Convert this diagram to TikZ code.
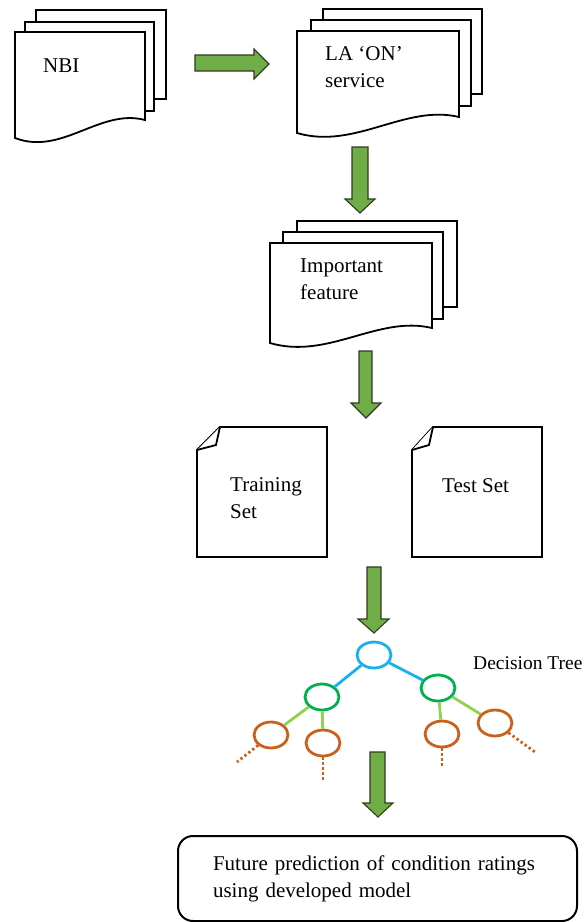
\documentclass[tikz,border=0pt]{standalone}
\usepackage{fontspec}
\setmainfont{Liberation Serif}
\usetikzlibrary{shapes.geometric}
\definecolor{arrowgreen}{HTML}{70AD47}
\definecolor{arrowedge}{HTML}{2E3B24}
\definecolor{treeblue}{HTML}{1AB0EE}
\definecolor{treegreen}{HTML}{00B050}
\definecolor{treelight}{HTML}{92D050}
\definecolor{treeorange}{HTML}{C9601C}
\begin{document}
\begin{tikzpicture}[x=1pt,y=-1pt,
  sheet/.style={draw=black,fill=white,line width=1.8pt,line join=miter},
  fatarrow/.style={draw=arrowedge,fill=arrowgreen,line width=1.1pt},
  lbl/.style={font=\fontsize{21}{27}\selectfont,anchor=base west,inner sep=0pt,align=left},
  tnode/.style={ellipse,draw=#1,line width=2.8pt,minimum width=34pt,minimum height=26pt,inner sep=0pt},
  tedge/.style={draw=#1,line width=2.8pt},
  tdots/.style={draw=treeorange,line width=2.8pt,dash pattern=on 2.4pt off 2.6pt}
]
\useasboundingbox (0,0) rectangle (587,922);

% ---------- NBI multi-document ----------
\draw[sheet] (36,10) rectangle (166,99);
\draw[sheet] (25,22) rectangle (154,111);
\draw[sheet] (15,138) -- (15,32) -- (145,32) -- (145,120)
  .. controls (100,108) and (62,156) .. cycle;
\node[lbl] (nbi) at (43,72) {NBI};

% ---------- LA 'ON' service ----------
\draw[sheet] (323,9) rectangle (482,94);
\draw[sheet] (311,20) rectangle (471,106);
\draw[sheet] (297,133) -- (297,31) -- (459,31) -- (459,117)
  .. controls (405,104) and (355,150) .. cycle;
\node[lbl] (la) at (325,87) {LA ‘ON’\\service};

% ---------- Important feature ----------
\draw[sheet] (297,221) rectangle (457,307);
\draw[sheet] (283,232) rectangle (443,319);
\draw[sheet] (270,343) -- (270,243) -- (432,243) -- (432,328)
  .. controls (378,315) and (328,360) .. cycle;
\node[lbl] (imp) at (300,299) {Important\\feature};

% ---------- Training / Test sets ----------
\draw[sheet] (220,427) -- (327,427) -- (327,557) -- (197,557) -- (197,450) -- cycle;
\draw[sheet] (220,427) -- (216,445) -- (197,450);
\node[lbl] (train) at (230,518) {Training\\Set};

\draw[sheet] (433,427) -- (542,427) -- (542,557) -- (412,557) -- (412,450) -- cycle;
\draw[sheet] (433,427) -- (429,445) -- (412,450);
\node[lbl] (test) at (442,492) {Test Set};

% ---------- Fat arrows ----------
\draw[fatarrow] (195,55) -- (254,55) -- (254,49) -- (269,64) -- (254,79) -- (254,71) -- (195,71) -- cycle;
\draw[fatarrow] (352,147) -- (368,147) -- (368,199) -- (375,199) -- (360,213) -- (345,199) -- (352,199) -- cycle;
\draw[fatarrow] (359,351) -- (372,351) -- (372,403) -- (381,403) -- (366,418) -- (351,403) -- (359,403) -- cycle;
\draw[fatarrow] (367,567) -- (381,567) -- (381,619) -- (389,619) -- (374,633) -- (358,619) -- (367,619) -- cycle;
\draw[fatarrow] (370,752) -- (385,752) -- (385,803) -- (393,803) -- (378,817) -- (363,803) -- (370,803) -- cycle;

% ---------- Decision tree ----------
\node[tnode=treeblue] (root) at (374,655) {};
\node[tnode=treegreen] (gl) at (322,697) {};
\node[tnode=treegreen] (gr) at (438,688) {};
\node[tnode=treeorange] (oll) at (271,735) {};
\node[tnode=treeorange] (olr) at (323,743) {};
\node[tnode=treeorange] (orl) at (442,734) {};
\node[tnode=treeorange] (orr) at (495,723) {};
\coordinate (dll) at (237,762);
\coordinate (dlr) at (323,780);
\coordinate (drl) at (442,766);
\coordinate (drr) at (535,752);

\draw[tedge=treeblue] (root) -- (gl);
\draw[tedge=treeblue] (root) -- (gr);
\draw[tedge=treelight] (gl) -- (oll);
\draw[tedge=treelight] (gl) -- (olr);
\draw[tedge=treelight] (gr) -- (orl);
\draw[tedge=treelight] (gr) -- (orr);
\draw[tdots] (oll) -- (dll);
\draw[tdots] (olr) -- (dlr);
\draw[tdots] (orl) -- (drl);
\draw[tdots] (orr) -- (drr);

\node[lbl,font=\fontsize{19.5}{27}\selectfont] (dt) at (473,669) {Decision Tree};

% ---------- Final box ----------
\node[draw=black,line width=2pt,rounded corners=15pt,
      font=\fontsize{21}{27}\selectfont,align=left,
      text width=329pt,inner xsep=35pt,inner ysep=0pt,
      minimum height=85pt,anchor=center] (final) at (377.5,878.5)
  {Future prediction of condition ratings\\using developed model};
\end{tikzpicture}
\end{document}
